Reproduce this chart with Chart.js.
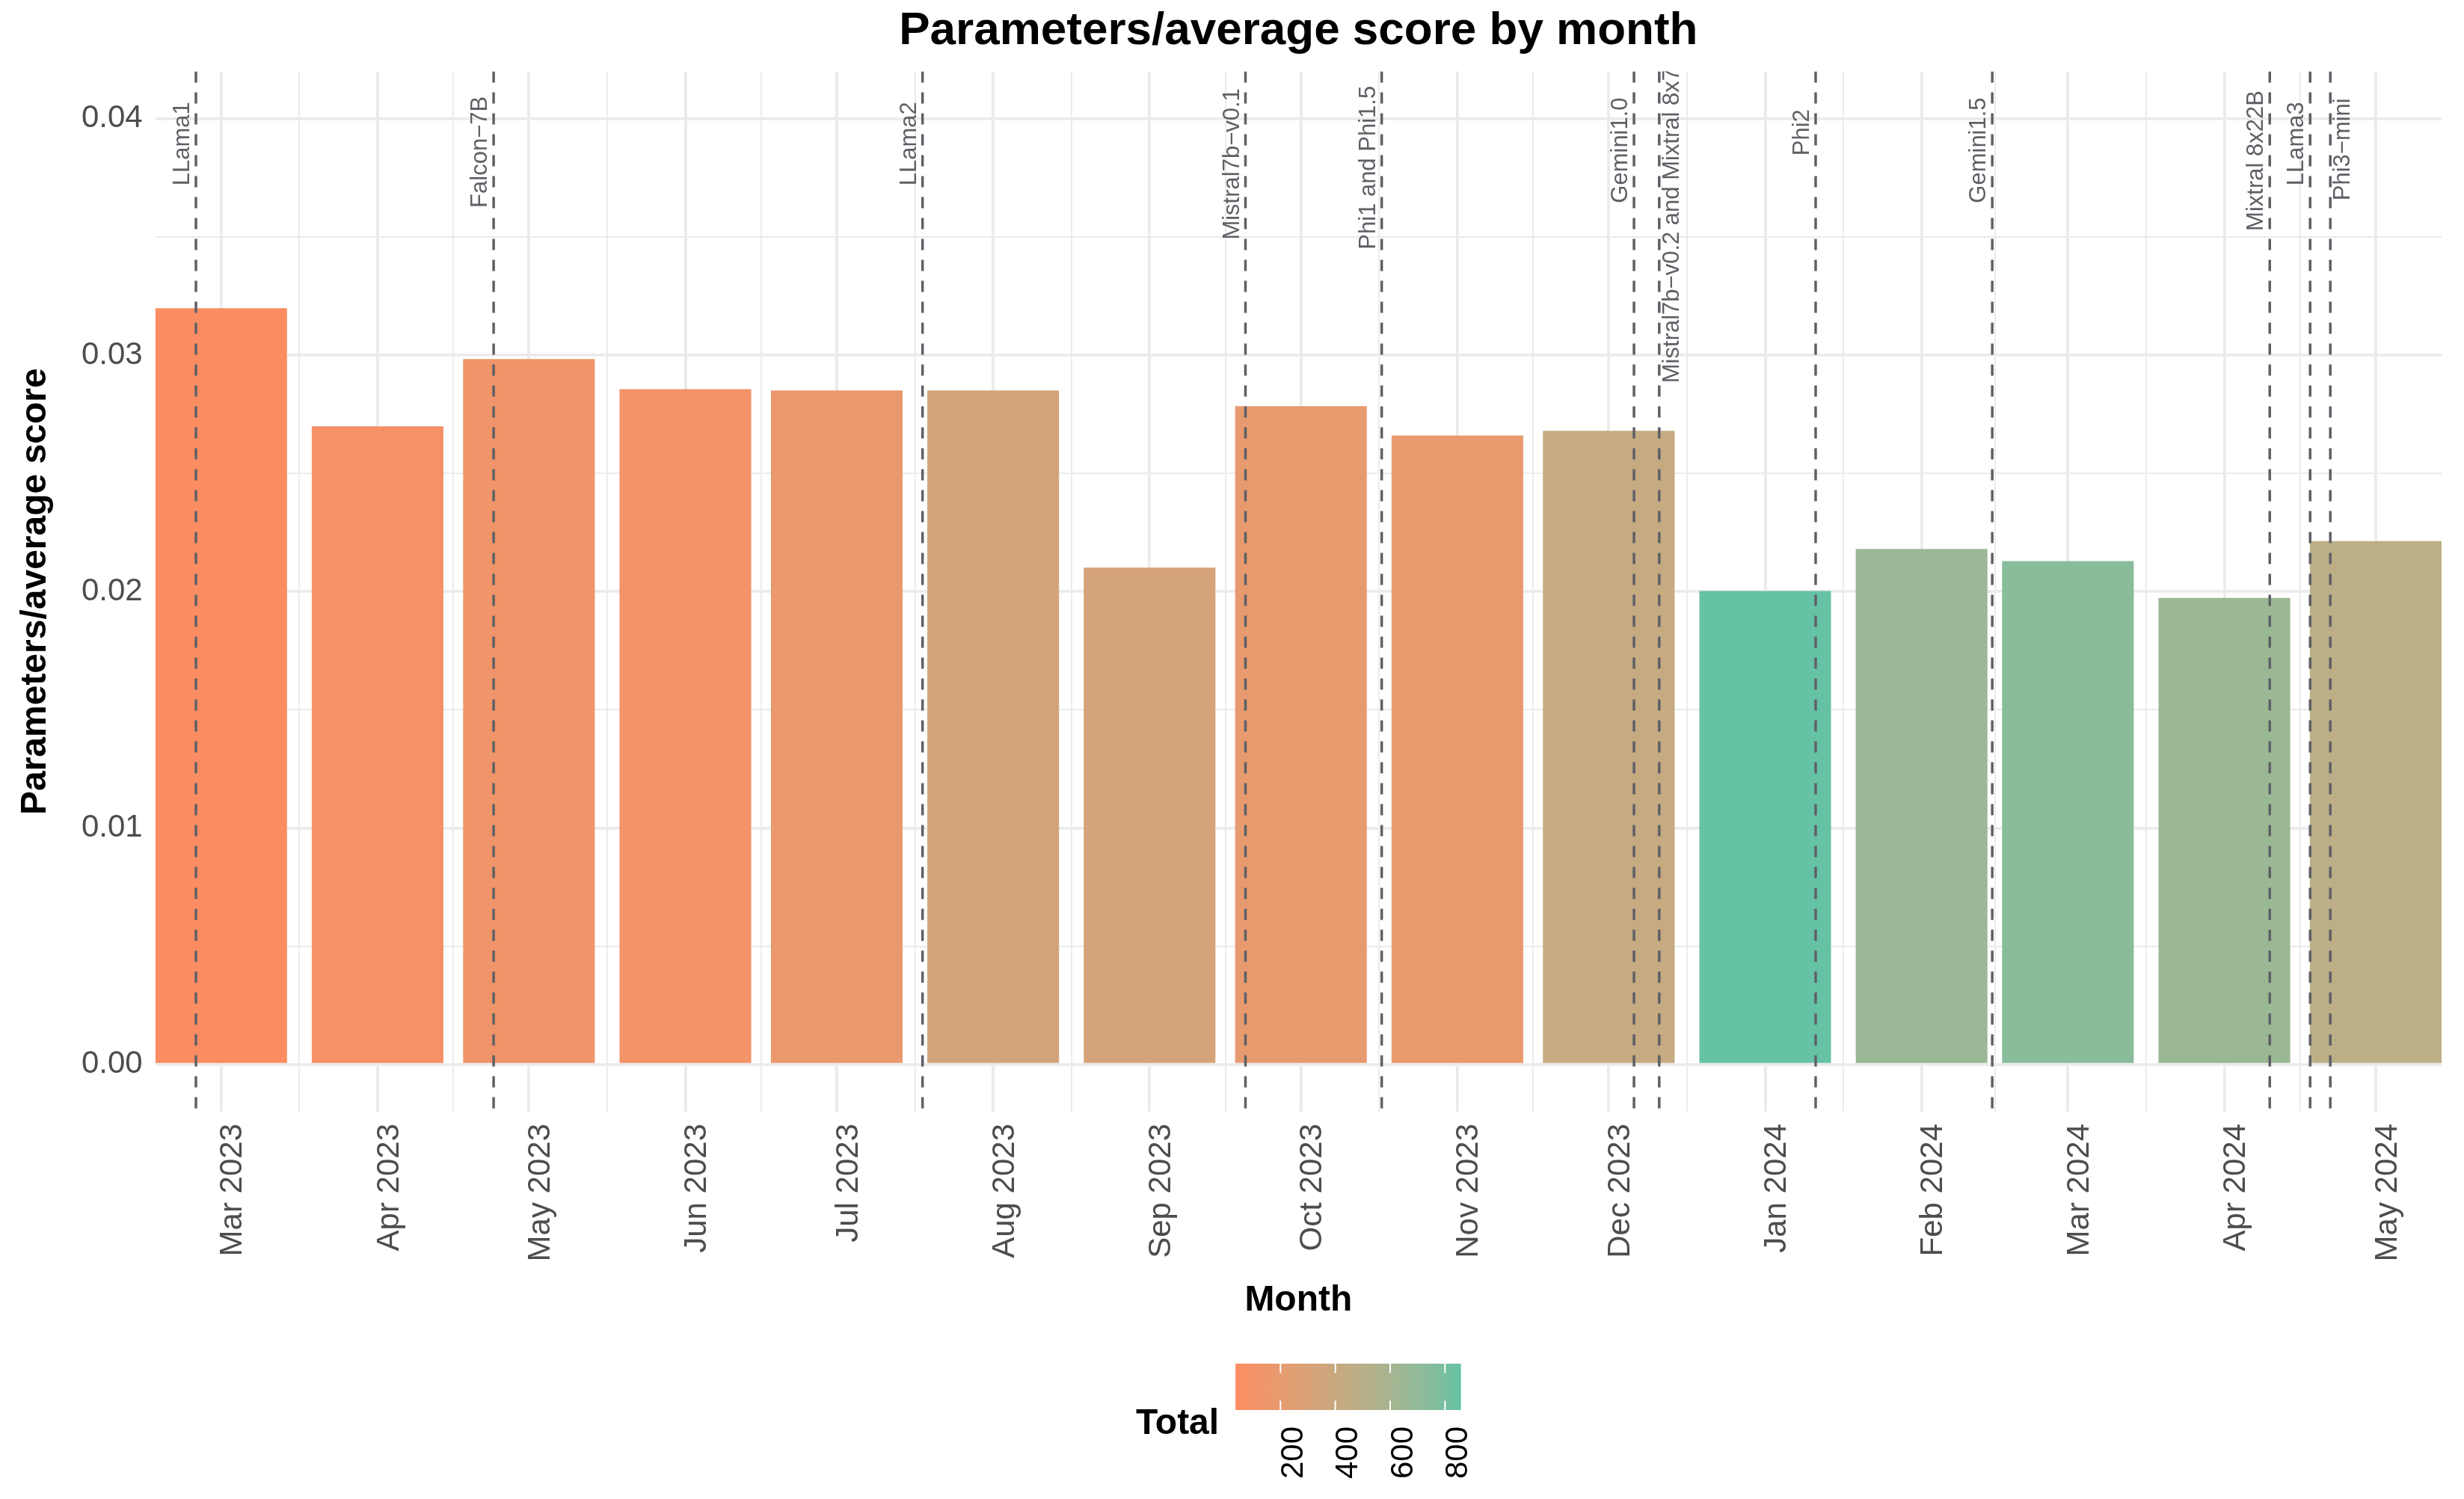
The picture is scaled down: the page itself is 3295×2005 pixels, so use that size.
<!DOCTYPE html>
<html>
<head>
<meta charset="utf-8">
<title>Parameters/average score by month</title>
<script src="https://cdn.jsdelivr.net/npm/chart.js@4.4.1/dist/chart.umd.min.js"></script>
<style>
  html, body { margin: 0; padding: 0; background: #fff; }
  canvas { display: block; }
</style>
</head>
<body>
<canvas id="myChart" width="3295" height="2005" style="width:3295px;height:2005px"></canvas>
<script>
// one bar per month
var months = ['2023-03-01', '2023-04-01', '2023-05-01', '2023-06-01', '2023-07-01', '2023-08-01', '2023-09-01',
  '2023-10-01', '2023-11-01', '2023-12-01', '2024-01-01', '2024-02-01', '2024-03-01', '2024-04-01', '2024-05-01']
var monthLabels = ['Mar 2023', 'Apr 2023', 'May 2023', 'Jun 2023', 'Jul 2023', 'Aug 2023', 'Sep 2023',
  'Oct 2023', 'Nov 2023', 'Dec 2023', 'Jan 2024', 'Feb 2024', 'Mar 2024', 'Apr 2024', 'May 2024']
var ratio = [0.03198, 0.02699, 0.02983, 0.02856, 0.02850, 0.02850, 0.02101,
  0.02784, 0.02660, 0.02680, 0.02002, 0.02180, 0.02129, 0.01973, 0.02213]
var total = [36, 81, 126, 110, 173, 332, 325, 192, 190, 422, 858, 661, 735, 655, 480]

// model releases (dashed lines)
var releaseDates = ['2023-02-24', '2023-04-24', '2023-07-18', '2023-09-20', '2023-10-17', '2023-12-06',
  '2023-12-11', '2024-01-11', '2024-02-15', '2024-04-10', '2024-04-18', '2024-04-22']
var releaseNames = ['LLama1', 'Falcon\u22127B', 'LLama2', 'Mistral7b\u2212v0.1', 'Phi1 and Phi1.5', 'Gemini1.0',
  'Mistral7b\u2212v0.2 and Mixtral 8x7B', 'Phi2', 'Gemini1.5', 'Mixtral 8x22B', 'LLama3', 'Phi3\u2212mini']

var yTicks = [0, 0.01, 0.02, 0.03, 0.04]
var legendTicks = [200, 400, 600, 800]

// which release labels sit on the right of their line
var labelRight = [false, false, false, false, false, false, true, false, false, false, false, true]

var lowColor = '#FC8D62'
var highColor = '#66C2A5'
var textGrey = '#4d4d4d'
var lineGrey = '#5f6066'
var gridGrey = '#ebebeb'
Chart.defaults.font.family = '"Liberation Sans", Arial, sans-serif'

function day(s) { return Date.parse(s + 'T00:00:00Z') / 86400000 }

// colour scale, interpolated in Lab like ggplot
function toLin(c) { c = c / 255; return c <= 0.04045 ? c / 12.92 : Math.pow((c + 0.055) / 1.055, 2.4) }
function fromLin(c) {
  c = c <= 0.0031308 ? 12.92 * c : 1.055 * Math.pow(c, 1 / 2.4) - 0.055
  return Math.round(Math.max(0, Math.min(1, c)) * 255)
}
function hexToLab(h) {
  var r = toLin(parseInt(h.slice(1, 3), 16)), g = toLin(parseInt(h.slice(3, 5), 16)), b = toLin(parseInt(h.slice(5, 7), 16))
  var x = (0.4124 * r + 0.3576 * g + 0.1805 * b) / 0.95047
  var y = 0.2126 * r + 0.7152 * g + 0.0722 * b
  var z = (0.0193 * r + 0.1192 * g + 0.9505 * b) / 1.08883
  function f(t) { return t > 0.008856 ? Math.cbrt(t) : 7.787 * t + 16 / 116 }
  var fx = f(x), fy = f(y), fz = f(z)
  return [116 * fy - 16, 500 * (fx - fy), 200 * (fy - fz)]
}
function labToCss(lab) {
  var fy = (lab[0] + 16) / 116, fx = fy + lab[1] / 500, fz = fy - lab[2] / 200
  function fi(t) { return t > 0.206893 ? t * t * t : (t - 16 / 116) / 7.787 }
  var x = 0.95047 * fi(fx), y = fi(fy), z = 1.08883 * fi(fz)
  var r = 3.2406 * x - 1.5372 * y - 0.4986 * z
  var g = -0.9689 * x + 1.8758 * y + 0.0415 * z
  var b = 0.0557 * x - 0.2040 * y + 1.0570 * z
  return 'rgb(' + fromLin(r) + ',' + fromLin(g) + ',' + fromLin(b) + ')'
}
var labLow = hexToLab(lowColor), labHigh = hexToLab(highColor)
var tMin = Math.min.apply(null, total), tMax = Math.max.apply(null, total)
function colorAt(f) {
  return labToCss([0, 1, 2].map(function (k) { return labLow[k] + (labHigh[k] - labLow[k]) * f }))
}
function fillFor(v) { return colorAt((v - tMin) / (tMax - tMin)) }

// x range: bars are 0.9 of the smallest month gap wide, panel ends at the bar edges
var monthDays = months.map(day)
var minGap = Infinity
for (var i = 1; i < monthDays.length; i++) minGap = Math.min(minGap, monthDays[i] - monthDays[i - 1])
var xMin = monthDays[0] - 0.45 * minGap
var xMax = monthDays[monthDays.length - 1] + 0.45 * minGap

var releasePlugin = {
  id: 'releases',
  afterDatasetsDraw: function (chart) {
    var ctx = chart.ctx, area = chart.chartArea, xs = chart.scales.x, ys = chart.scales.y
    ctx.save()
    ctx.beginPath()
    ctx.rect(area.left, area.top, area.right - area.left, area.bottom - area.top)
    ctx.clip()
    ctx.strokeStyle = lineGrey
    ctx.lineWidth = 3.5
    ctx.setLineDash([15, 13])
    releaseDates.forEach(function (d) {
      var px = xs.getPixelForValue(day(d))
      ctx.beginPath()
      ctx.moveTo(px, area.top)
      ctx.lineTo(px, area.bottom)
      ctx.stroke()
    })
    ctx.setLineDash([])
    ctx.fillStyle = lineGrey
    ctx.font = '31px "Liberation Sans", Arial, sans-serif'
    var anchor = ys.getPixelForValue(0.04)
    releaseNames.forEach(function (name, i) {
      var px = xs.getPixelForValue(day(releaseDates[i]))
      var w = ctx.measureText(name).width
      ctx.save()
      ctx.translate(labelRight[i] ? px + 26 : px - 9, anchor + 0.8 * w)
      ctx.rotate(-Math.PI / 2)
      ctx.textAlign = 'left'
      ctx.textBaseline = 'alphabetic'
      ctx.fillText(name, 0, 0)
      ctx.restore()
    })
    ctx.restore()
  }
}

var legendPlugin = {
  id: 'colourbar',
  afterDraw: function (chart) {
    var ctx = chart.ctx, area = chart.chartArea
    var barW = 301.5, top = 1824, bottom = 1886, gap = 22
    ctx.save()
    ctx.font = 'bold 48px "Liberation Sans", Arial, sans-serif'
    var titleW = ctx.measureText('Total').width
    var groupW = titleW + gap + barW
    var x0 = (area.left + area.right) / 2 - groupW / 2 + titleW + gap
    var x1 = x0 + barW
    var grad = ctx.createLinearGradient(x0, 0, x1, 0)
    for (var k = 0; k <= 20; k++) grad.addColorStop(k / 20, colorAt(k / 20))
    ctx.fillStyle = grad
    ctx.fillRect(x0, top, barW, bottom - top)
    ctx.strokeStyle = '#fff'
    ctx.lineWidth = 2
    legendTicks.forEach(function (v) {
      var px = x0 + (v - tMin) / (tMax - tMin) * barW
      ctx.beginPath()
      ctx.moveTo(px, top); ctx.lineTo(px, top + 12.4)
      ctx.moveTo(px, bottom - 12.4); ctx.lineTo(px, bottom)
      ctx.stroke()
      ctx.save()
      ctx.fillStyle = '#000'
      ctx.font = '42px "Liberation Sans", Arial, sans-serif'
      ctx.translate(px + 29.5, 1908)
      ctx.rotate(-Math.PI / 2)
      ctx.textAlign = 'right'
      ctx.textBaseline = 'alphabetic'
      ctx.fillText(String(v), 0, 0)
      ctx.restore()
    })
    ctx.fillStyle = '#000'
    ctx.textAlign = 'right'
    ctx.textBaseline = 'alphabetic'
    ctx.fillText('Total', x0 - gap, 1918)
    ctx.restore()
  }
}

var chart = new Chart('myChart', {
  type: 'bar',
  data: {
    datasets: [{
      data: monthDays.map(function (d, i) { return { x: d, y: ratio[i] } }),
      backgroundColor: total.map(fillFor),
      borderWidth: 0,
      categoryPercentage: 0.9,
      barPercentage: 1.0
    }]
  },
  options: {
    responsive: false,
    animation: false,
    devicePixelRatio: 1,
    layout: { padding: { left: 0, right: 30, top: 0, bottom: 236.7 } },
    plugins: {
      legend: { display: false },
      tooltip: { enabled: false },
      title: {
        display: true,
        fullSize: false,
        text: 'Parameters/average score by month',
        color: '#000',
        font: { size: 62, weight: 'bold' },
        padding: { top: 5, bottom: 16 }
      }
    },
    scales: {
      x: {
        type: 'linear',
        min: xMin,
        max: xMax,
        bounds: 'data',
        offset: false,
        afterBuildTicks: function (s) { s.ticks = monthDays.map(function (d) { return { value: d } }) },
        afterFit: function (s) { s.height = 281.3 },
        grid: { color: gridGrey, lineWidth: 3.8, drawTicks: false, offset: false },
        border: { display: false },
        ticks: {
          autoSkip: false,
          minRotation: 90,
          maxRotation: 90,
          padding: 16,
          labelOffset: 16,
          color: textGrey,
          font: { size: 42 },
          callback: function (v, i) { return monthLabels[i] }
        },
        title: { display: true, text: 'Month', color: '#000', font: { size: 48, weight: 'bold' }, padding: 0 }
      },
      xm: {
        type: 'linear',
        position: 'bottom',
        min: xMin,
        max: xMax,
        bounds: 'data',
        offset: false,
        afterBuildTicks: function (s) {
          var t = []
          for (var k = 1; k < monthDays.length; k++) t.push({ value: (monthDays[k - 1] + monthDays[k]) / 2 })
          s.ticks = t
        },
        afterFit: function (s) { s.height = 0 },
        grid: { color: gridGrey, lineWidth: 1.9, drawTicks: false, offset: false },
        border: { display: false },
        ticks: { display: false }
      },
      y: {
        min: -0.002,
        max: 0.042,
        afterBuildTicks: function (s) {
          var t = []
          yTicks.forEach(function (v, k) {
            t.push({ value: v })
            if (k < yTicks.length - 1) t.push({ value: (v + yTicks[k + 1]) / 2 })
          })
          s.ticks = t
        },
        afterFit: function (s) { s.width = 207.7 },
        grid: {
          color: gridGrey,
          drawTicks: false,
          lineWidth: function (c) { return c.tick && yTicks.indexOf(c.tick.value) >= 0 ? 3.8 : 1.9 }
        },
        border: { display: false },
        ticks: {
          padding: 17,
          color: textGrey,
          font: { size: 42 },
          callback: function (v) { return yTicks.indexOf(v) >= 0 ? v.toFixed(2) : '' }
        },
        title: {
          display: true,
          text: 'Parameters/average score',
          color: '#000',
          font: { size: 48, weight: 'bold' },
          padding: { top: 19, bottom: 0 }
        }
      }
    }
  },
  plugins: [releasePlugin, legendPlugin]
})
</script>
</body>
</html>
